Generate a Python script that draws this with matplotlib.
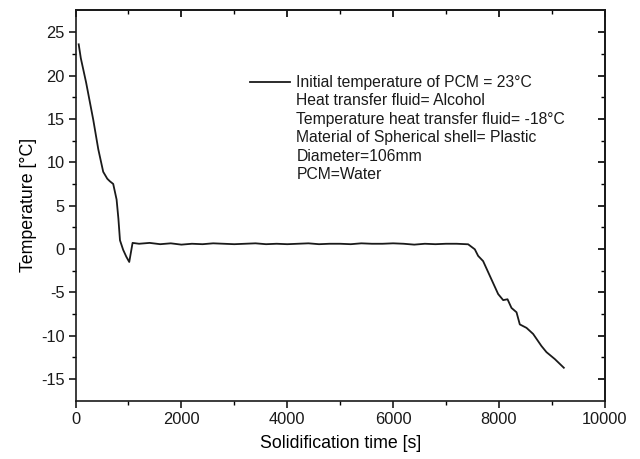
import matplotlib
matplotlib.use("Agg")
import matplotlib.pyplot as plt
from matplotlib.lines import Line2D

plt.rcParams['font.family'] = ['Liberation Sans', 'DejaVu Sans']
plt.rcParams['axes.unicode_minus'] = False

time_s = [60, 100, 200, 335, 430, 523, 600, 650, 712, 776, 810, 840, 900, 960, 1015, 1078,
          1200, 1400, 1600, 1800, 2000, 2200, 2400, 2600, 2800, 3000, 3200, 3400, 3600,
          3800, 4000, 4200, 4400, 4600, 4800, 5000, 5200, 5400, 5600, 5800, 6000, 6200,
          6400, 6600, 6800, 7000, 7200, 7418, 7544, 7607, 7701, 7828, 7985, 8080, 8162,
          8237, 8332, 8394, 8521, 8646, 8804, 8898, 9056, 9226]
temp_c = [23.6, 22.0, 19.2, 14.9, 11.5, 8.9, 8.1, 7.8, 7.5, 5.7, 3.5, 1.0, -0.1, -0.9, -1.5, 0.7,
          0.6, 0.7, 0.55, 0.65, 0.5, 0.6, 0.55, 0.65, 0.6, 0.55, 0.6, 0.65, 0.55,
          0.6, 0.55, 0.6, 0.65, 0.55, 0.6, 0.6, 0.55, 0.65, 0.6, 0.6, 0.65, 0.6,
          0.5, 0.6, 0.55, 0.6, 0.6, 0.54, -0.04, -0.8, -1.4, -3.1, -5.2, -5.9, -5.8,
          -6.8, -7.3, -8.7, -9.1, -9.8, -11.2, -11.9, -12.7, -13.7]

legend_lines = ["Initial temperature of PCM = 23\u00b0C",
                "Heat transfer fluid= Alcohol",
                "Temperature heat transfer fluid= -18\u00b0C",
                "Material of Spherical shell= Plastic",
                "Diameter=106mm",
                "PCM=Water"]

x_ticks = [0, 2000, 4000, 6000, 8000, 10000]
y_ticks = [-15, -10, -5, 0, 5, 10, 15, 20, 25]

fig = plt.figure(figsize=(6.4, 4.59), dpi=100)
ax = fig.add_axes([0.118, 0.127, 0.827, 0.852])
ax.plot(time_s, temp_c, color='#1a1a1a', lw=1.3)
ax.set_xlim(0, 10000)
ax.set_ylim(-17.5, 27.6)
ax.set_xticks(x_ticks)
ax.set_yticks(y_ticks)
ax.set_xticks(range(1000, 10000, 2000), minor=True)
ax.set_yticks([-12.5, -7.5, -2.5, 2.5, 7.5, 12.5, 17.5, 22.5], minor=True)
ax.tick_params(axis='both', which='major', direction='out', length=5, width=1.2,
               labelsize=11.8, colors='#1a1a1a', pad=3)
ax.tick_params(axis='both', which='minor', direction='out', length=3, width=1.0)
for s in ax.spines.values():
    s.set_linewidth(1.2)
    s.set_color('#1a1a1a')

# mirrored inward ticks on top and right
secx = ax.secondary_xaxis('top')
secx.set_xticks(x_ticks)
secx.set_xticks(range(1000, 10000, 2000), minor=True)
secx.tick_params(which='major', direction='in', length=5, width=1.2, labeltop=False)
secx.tick_params(which='minor', direction='in', length=3, width=1.0)
secx.spines['top'].set_linewidth(1.2)
secy = ax.secondary_yaxis('right')
secy.set_yticks(y_ticks)
secy.set_yticks([-12.5, -7.5, -2.5, 2.5, 7.5, 12.5, 17.5, 22.5], minor=True)
secy.tick_params(which='major', direction='in', length=5, width=1.2, labelright=False)
secy.tick_params(which='minor', direction='in', length=3, width=1.0)
secy.spines['right'].set_linewidth(1.2)

ax.set_xlabel('Solidification time [s]', fontsize=12.8, labelpad=6)
ax.set_ylabel('Temperature [\u00b0C]', fontsize=12.8, labelpad=3)

handles = [Line2D([], [], color='#1a1a1a', lw=1.3)] + \
          [Line2D([], [], color='none') for _ in legend_lines[1:]]
leg = ax.legend(handles, legend_lines, loc='upper left',
                bbox_to_anchor=(250 / 640, 1 - 75 / 459), bbox_transform=fig.transFigure,
                frameon=False, fontsize=11.3, handlelength=2.55, handletextpad=0.4,
                labelspacing=0.22, borderpad=0, borderaxespad=0)
for t in leg.get_texts():
    t.set_color('#1a1a1a')

fig.savefig('out.png', dpi=100)
